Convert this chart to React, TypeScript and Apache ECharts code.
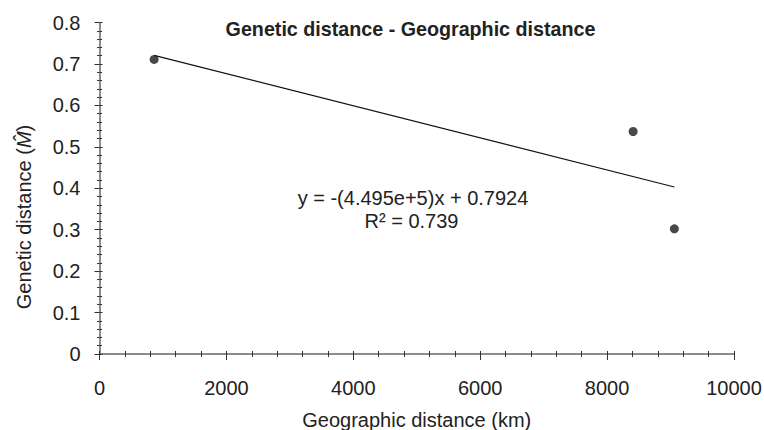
import React, { useEffect, useRef } from "react";
import * as echarts from "echarts";

const distanceKm = [861, 8410, 9060];
const geneticDistance = [0.711, 0.537, 0.302];
const trendX = [861, 9060];
const trendY = [0.7205, 0.403];
const titleText = "Genetic distance - Geographic distance";
const equationText = "y = -(4.495e+5)x + 0.7924";
const r2Text = "R² = 0.739";
const xAxisName = "Geographic distance (km)";
const yAxisName = "Genetic distance ({m|M̂})";

const FONT = "'Liberation Sans', Arial, Helvetica, sans-serif";

export default function App() {
  const ref = useRef<HTMLDivElement>(null);
  useEffect(() => {
    document.body.style.margin = "0";
    if (!ref.current) return;
    const chart = echarts.init(ref.current, null, { renderer: "svg" });
    const axisLineStyle = { color: "#666", width: 1.5 };
    const tickStyle = { color: "#333", width: 1 };
    const xBase = { type: "value", min: 0, max: 10000, interval: 2000, position: "bottom", splitLine: { show: false } };
    const yBase = { type: "value", min: 0, max: 0.8, interval: 0.1, position: "left", splitLine: { show: false } };
    chart.setOption({
      animation: false,
      textStyle: { fontFamily: FONT },
      grid: {
        left: 99.5,
        top: 22.5,
        width: 634.5,
        height: 331.5,
        containLabel: false,
        outerBoundsMode: "none",
      },
      xAxis: [
        {
          ...xBase,
          axisLine: { show: true, lineStyle: axisLineStyle },
          axisTick: { show: true, length: 6, lineStyle: tickStyle },
          minorTick: { show: true, splitNumber: 5, length: 3, lineStyle: tickStyle },
          axisLabel: {
            show: true,
            margin: 24,
            fontSize: 20,
            color: "#222",
            fontFamily: FONT,
            formatter: (v: number) => String(v),
          },
          name: xAxisName,
          nameLocation: "middle",
          nameGap: 56,
          nameTextStyle: { fontSize: 20, color: "#222", fontFamily: FONT },
        },
        {
          ...xBase,
          axisLine: { show: false },
          axisTick: { show: true, inside: true, length: 3, lineStyle: tickStyle },
          minorTick: { show: true, splitNumber: 5, length: 3, lineStyle: tickStyle },
          axisLabel: { show: false },
        },
      ],
      yAxis: [
        {
          ...yBase,
          axisLine: { show: true, lineStyle: axisLineStyle },
          axisTick: { show: true, length: 5, lineStyle: tickStyle },
          minorTick: { show: true, splitNumber: 5, length: 2.5, lineStyle: tickStyle },
          axisLabel: {
            show: true,
            margin: 19,
            fontSize: 20,
            color: "#222",
            fontFamily: FONT,
            formatter: (v: number) => String(Math.round(v * 10) / 10),
          },
        },
        {
          ...yBase,
          axisLine: { show: false },
          axisTick: { show: true, inside: true, length: 3, lineStyle: tickStyle },
          minorTick: { show: true, splitNumber: 5, length: 2.5, lineStyle: tickStyle },
          axisLabel: { show: false },
        },
      ],
      graphic: [
        {
          type: "text",
          x: 410.5,
          y: 28.5,
          style: {
            text: titleText,
            fontSize: 19.7,
            fontWeight: "bold",
            fontFamily: FONT,
            fill: "#222",
            align: "center",
            verticalAlign: "middle",
          },
        },
        {
          type: "text",
          x: 413,
          y: 198,
          style: {
            text: equationText,
            fontSize: 20,
            fontFamily: FONT,
            fill: "#222",
            align: "center",
            verticalAlign: "middle",
          },
        },
        {
          type: "text",
          x: 411.5,
          y: 221,
          style: {
            text: r2Text,
            fontSize: 20,
            fontFamily: FONT,
            fill: "#222",
            align: "center",
            verticalAlign: "middle",
          },
        },
        {
          type: "text",
          x: 24,
          y: 217,
          rotation: Math.PI / 2,
          style: {
            text: yAxisName,
            fontSize: 20,
            fontFamily: FONT,
            fill: "#222",
            align: "center",
            verticalAlign: "middle",
            rich: { m: { fontSize: 20, fontStyle: "italic", fill: "#222", fontFamily: FONT } },
          },
        },
      ],
      series: [
        {
          type: "line",
          xAxisIndex: 0,
          yAxisIndex: 0,
          data: trendX.map((x, i) => [x, trendY[i]]),
          showSymbol: false,
          symbol: "none",
          lineStyle: { color: "#111", width: 1.2 },
          silent: true,
        },
        {
          type: "scatter",
          xAxisIndex: 0,
          yAxisIndex: 0,
          data: distanceKm.map((x, i) => [x, geneticDistance[i]]),
          symbol: "circle",
          symbolSize: 9,
          itemStyle: { color: "#1a1a1a" },
        },
      ],
    });
    return () => chart.dispose();
  }, []);
  return <div ref={ref} style={{ width: 764, height: 430 }} />;
}
